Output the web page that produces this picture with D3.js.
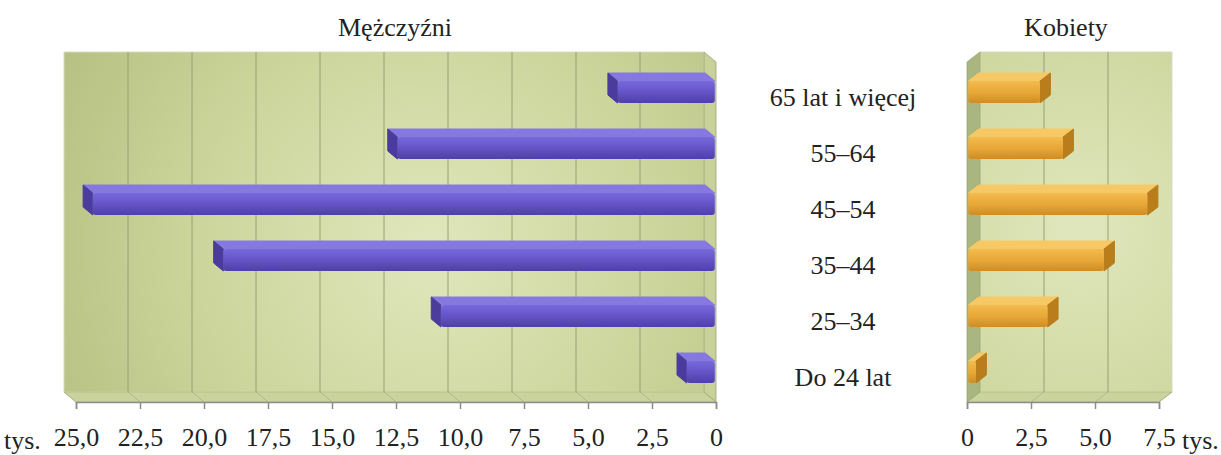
<!DOCTYPE html>
<html>
<head>
<meta charset="utf-8">
<script src="https://cdn.jsdelivr.net/npm/d3@7"></script>
<style>
  html, body { margin: 0; padding: 0; background: #ffffff; }
  svg { display: block; }
  svg text { font-family: "Liberation Serif", "DejaVu Serif", "Noto Serif", serif !important; fill: #222; }
</style>
</head>
<body>
<svg id="chart" width="1221" height="455"></svg>
<script>
// Age groups (top to bottom) and values in thousands
const categories = ["65 lat i więcej", "55–64", "45–54", "35–44", "25–34", "Do 24 lat"];
const menValues = [3.8, 12.4, 24.3, 19.2, 10.7, 1.1];
const womenValues = [2.8, 3.7, 7.0, 5.3, 3.1, 0.3];
const menTicks = [0, 2.5, 5, 7.5, 10, 12.5, 15, 17.5, 20, 22.5, 25];
const womenTicks = [0, 2.5, 5, 7.5];
const titles = ["Mężczyźni", "Kobiety"];
const unitLabel = "tys.";

const svg = d3.select("#chart");
const defs = svg.append("defs");
const FONT = "Liberation Serif, DejaVu Serif, serif";
const FS = 26;

const plotTop = 62, plotBottom = 402;     // front plane of the 3-D box
const y = d3.scaleBand().domain(categories).range([65, 401]);
const barH = 22;
const fmt = v => v === 0 ? "0" : d3.format(".1f")(v).replace(".", ",");

function wallGradient(id, cx, cy) {
  const g = defs.append("radialGradient").attr("id", id)
    .attr("gradientUnits", "userSpaceOnUse")
    .attr("cx", cx).attr("cy", cy).attr("r", 420);
  g.append("stop").attr("offset", "0%").attr("stop-color", "#e0e7bd");
  g.append("stop").attr("offset", "55%").attr("stop-color", "#ccd59b");
  g.append("stop").attr("offset", "100%").attr("stop-color", "#b6c082");
}
wallGradient("wallMen", 430, 250);
wallGradient("wallWomen", 1080, 230);

function linGrad(id, stops) {
  const g = defs.append("linearGradient").attr("id", id)
    .attr("x1", 0).attr("y1", 0).attr("x2", 0).attr("y2", 1);
  stops.forEach(([o, c]) => g.append("stop").attr("offset", o).attr("stop-color", c));
}
linGrad("menFront", [["0%", "#7768dc"], ["45%", "#6656ca"], ["100%", "#4f3fa8"]]);
linGrad("womenFront", [["0%", "#f3bb4e"], ["50%", "#e9a837"], ["100%", "#cf8d22"]]);

const colors = {
  men: { front: "url(#menFront)", top: "#8579df", cap: "#4a3b9c" },
  women: { front: "url(#womenFront)", top: "#f6c866", cap: "#b97d1c" }
};

function drawPanel(opt) {
  const { x, dx, dy, ticks, values, col, wall, sideFill, title, titleX } = opt;
  const g = svg.append("g");
  const [d0, d1] = x.domain();
  const x0 = x(d0), x1 = x(d1);
  const pts = a => a.map(p => p.join(",")).join(" ");

  // back wall
  g.append("polygon")
    .attr("points", pts([[x0 + dx, plotTop + dy], [x1 + dx, plotTop + dy], [x1 + dx, plotBottom + dy], [x0 + dx, plotBottom + dy]]))
    .attr("fill", `url(#${wall})`).attr("stroke", "#d6dbc4").attr("stroke-width", 1);

  // floor
  g.append("polygon")
    .attr("points", pts([[x0, plotBottom], [x1, plotBottom], [x1 + dx, plotBottom + dy], [x0 + dx, plotBottom + dy]]))
    .attr("fill", "#c9d39b").attr("stroke", "#b3bb8c").attr("stroke-width", 0.8);

  // side wall at the zero end
  g.append("polygon")
    .attr("points", pts([[x0, plotTop], [x0 + dx, plotTop + dy], [x0 + dx, plotBottom + dy], [x0, plotBottom]]))
    .attr("fill", sideFill).attr("stroke", "#9aa37a").attr("stroke-width", 0.8);

  // grid lines on back wall and floor
  ticks.filter(t => t !== d0 && t !== d1).forEach(t => {
    g.append("line")
      .attr("x1", x(t) + dx).attr("x2", x(t) + dx)
      .attr("y1", plotTop + dy).attr("y2", plotBottom + dy)
      .attr("stroke", "#98a074").attr("stroke-width", 1);
  });
  ticks.filter(t => t !== d0).forEach(t => {
    g.append("line")
      .attr("x1", x(t)).attr("x2", x(t) + dx)
      .attr("y1", plotBottom).attr("y2", plotBottom + dy)
      .attr("stroke", "#a9b184").attr("stroke-width", 0.8);
  });

  // bars: top face, end cap and front face
  const fa = 0.1, fb = 0.9;
  categories.forEach((c, i) => {
    const v = values[i];
    const yc = y(c) + y.bandwidth() / 2;
    const ax = dx * fa, ay = dy * fa, bx = dx * fb, by = dy * fb;
    const xs = x(0), xe = x(v);
    const t0 = yc - barH / 2, b0 = yc + barH / 2;
    const bg = g.append("g");
    bg.append("polygon")
      .attr("points", pts([[xs + ax, t0 + ay], [xe + ax, t0 + ay], [xe + bx, t0 + by], [xs + bx, t0 + by]]))
      .attr("fill", col.top).attr("stroke", col.top).attr("stroke-width", 1).attr("stroke-linejoin", "round");
    bg.append("polygon")
      .attr("points", pts([[xe + ax, t0 + ay], [xe + bx, t0 + by], [xe + bx, b0 + by], [xe + ax, b0 + ay]]))
      .attr("fill", col.cap).attr("stroke", col.cap).attr("stroke-width", 1).attr("stroke-linejoin", "round");
    bg.append("rect")
      .attr("x", Math.min(xs, xe) + ax).attr("y", t0 + ay)
      .attr("width", Math.abs(xe - xs)).attr("height", barH)
      .attr("rx", 3).attr("fill", col.front);
  });

  // axis at the front edge of the floor
  const axis = g.append("g").attr("transform", `translate(0,${plotBottom})`)
    .call(d3.axisBottom(x).tickValues(ticks).tickFormat(fmt).tickSize(7).tickPadding(19));
  axis.attr("font-family", FONT).attr("font-size", FS);
  axis.select(".domain").attr("stroke", "#8c8c8c").attr("stroke-width", 1.5);
  axis.selectAll(".tick line").attr("stroke", "#8c8c8c").attr("stroke-width", 1.5);
  axis.selectAll(".tick text").attr("fill", "#222");

  svg.append("text").attr("x", titleX).attr("y", 36)
    .attr("font-family", FONT).attr("text-anchor", "middle").attr("font-size", FS).text(title);
}

const xMen = d3.scaleLinear().domain([0, 25]).range([716, 76]);
const xWomen = d3.scaleLinear().domain([0, 7.5]).range([967, 1159]);

drawPanel({ x: xMen, dx: -12, dy: -10, ticks: menTicks, values: menValues, col: colors.men,
  wall: "wallMen", sideFill: "#c8d197", title: titles[0], titleX: 395 });
drawPanel({ x: xWomen, dx: 13, dy: -10, ticks: womenTicks, values: womenValues, col: colors.women,
  wall: "wallWomen", sideFill: "#a9b67f", title: titles[1], titleX: 1066 });

// category labels between the panels
svg.append("g").selectAll("text").data(categories).join("text")
  .attr("font-family", FONT)
  .attr("x", 843).attr("y", d => y(d) + y.bandwidth() / 2 + 13)
  .attr("text-anchor", "middle").attr("font-size", FS).text(d => d);

// unit labels
svg.append("text").attr("font-family", FONT).attr("x", 4).attr("y", 449).attr("font-size", FS).text(unitLabel);
svg.append("text").attr("font-family", FONT).attr("x", 1182).attr("y", 449).attr("font-size", FS).text(unitLabel);
</script>
</body>
</html>
